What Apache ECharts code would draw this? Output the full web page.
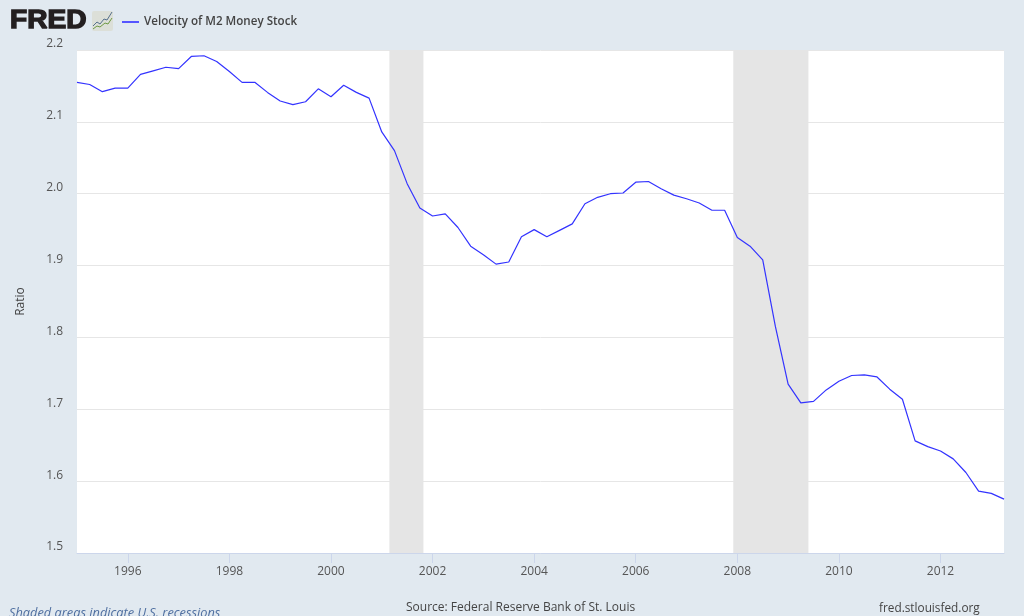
<!DOCTYPE html>
<html>
<head>
<meta charset="utf-8">
<style>html,body{margin:0;padding:0;background:#e1e9f0;overflow:hidden}#c{width:1024px;height:616px}</style>
<script src="https://cdn.jsdelivr.net/npm/echarts@6/dist/echarts.min.js"></script>
</head>
<body>
<div id="c"></div>
<script>
const seriesName = "Velocity of M2 Money Stock";
const startYear = 1995;
const velocity = [
2.155,2.152,2.142,2.147,2.147,2.166,2.171,2.176,2.174,2.191,2.192,2.184,2.170,2.155,2.155,2.141,2.129,2.124,2.128,2.146,
2.135,2.151,2.141,2.133,2.086,2.060,2.014,1.980,1.969,1.972,1.953,1.927,1.915,1.902,1.905,1.940,1.950,1.940,1.949,1.958,
1.986,1.995,2.000,2.001,2.016,2.017,2.007,1.998,1.993,1.987,1.977,1.977,1.939,1.927,1.908,1.815,1.735,1.709,1.711,1.727,
1.739,1.747,1.748,1.745,1.728,1.714,1.656,1.648,1.642,1.631,1.612,1.586,1.583,1.575];
const tickYears = [1996,1998,2000,2002,2004,2006,2008,2010,2012];
const yTicks = [1.5,1.6,1.7,1.8,1.9,2.0,2.1,2.2];
const recessions = [[2001.15,2001.82],[2007.92,2009.40]];

const quarterX = i => startYear + i / 4;
const points = velocity.map((v, i) => [quarterX(i), v]);
const font = "'Open Sans', sans-serif";

const chart = echarts.init(document.getElementById('c'), null, {renderer: 'canvas'});
chart.setOption({
  animation: false,
  backgroundColor: '#e1e9f0',
  grid: {left: 77, right: 20, top: 50, bottom: 63, backgroundColor: '#ffffff', show: true, borderWidth: 0},
  legend: {
    show: true, left: 117, top: 11, itemWidth: 17, itemHeight: 2, itemGap: 5,
    icon: 'rect',
    itemStyle: {color: '#5555ff'},
    textStyle: {fontFamily: font, fontSize: 11.6, fontWeight: 600, color: '#444444'},
    data: [seriesName]
  },
  xAxis: {
    type: 'value',
    min: quarterX(0), max: quarterX(velocity.length - 1),
    axisLine: {show: true, onZero: false, lineStyle: {color: '#ccd6eb', width: 1}},
    axisTick: {show: true, length: 10, lineStyle: {color: '#ccd6eb', width: 1}, customValues: tickYears},
    axisLabel: {
      customValues: tickYears, margin: 13, color: '#555555', fontFamily: font, fontSize: 12,
      formatter: v => String(v)
    },
    splitLine: {show: false}
  },
  yAxis: {
    type: 'value',
    min: yTicks[0], max: yTicks[yTicks.length - 1], interval: 0.1,
    name: 'Ratio', nameLocation: 'middle', nameGap: 50, nameRotate: 90,
    nameTextStyle: {fontFamily: font, fontSize: 12, color: '#444444'},
    axisLine: {show: false}, axisTick: {show: false},
    axisLabel: {
      margin: 14, color: '#555555', fontFamily: font, fontSize: 12, verticalAlign: 'bottom', lineHeight: 12,
      formatter: v => v.toFixed(1)
    },
    splitLine: {show: true, lineStyle: {color: '#e6e6e6', width: 1}}
  },
  series: [{
    name: seriesName, type: 'line', data: points, showSymbol: false, smooth: false,
    clip: true, z: 5,
    itemStyle: {color: '#3333ff'},
    lineStyle: {color: '#3333ff', width: 1.2},
    markArea: {
      silent: true, z: 1,
      itemStyle: {color: '#e5e5e5', opacity: 1},
      data: recessions.map(r => [{xAxis: r[0]}, {xAxis: r[1]}])
    }
  }],
  graphic: [
    {type: 'text', x: 10, y: 8, scaleX: 1.08, style: {text: 'FRED', fontFamily: "'Liberation Sans', sans-serif", fontWeight: 900, fontSize: 26, fill: '#231f20', stroke: '#231f20', lineWidth: 1.4}},
    {type: 'rect', shape: {x: 92, y: 11, width: 21, height: 20, r: 2}, style: {fill: '#dcdfd8'}},
    {type: 'polyline', shape: {points: [[93,26],[97,22],[100,24],[104,19],[107,20],[112,12]]}, style: {stroke: '#56708c', fill: 'none', lineWidth: 1}},
    {type: 'polyline', shape: {points: [[93,29],[97,26],[100,27],[105,23],[108,24],[112,18]]}, style: {stroke: '#6f9a45', fill: 'none', lineWidth: 1}},
    {type: 'text', left: 9, top: 607, style: {text: 'Shaded areas indicate U.S. recessions', fontFamily: font, fontStyle: 'italic', fontSize: 12.8, fill: '#4f6fa0'}},
    {type: 'text', left: 406, top: 602, style: {text: 'Source: Federal Reserve Bank of St. Louis', fontFamily: font, fontSize: 12, fill: '#444444'}},
    {type: 'text', left: 879, top: 603, style: {text: 'fred.stlouisfed.org', fontFamily: font, fontSize: 11.8, fill: '#444444'}}
  ]
});
</script>
</body>
</html>
